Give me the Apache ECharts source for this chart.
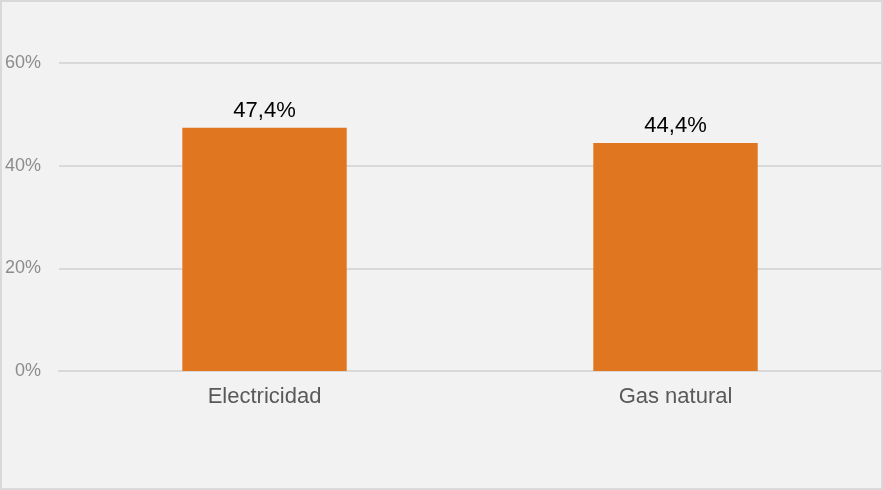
<!DOCTYPE html>
<html><head><meta charset="utf-8">
<script src="https://cdn.jsdelivr.net/npm/echarts@6/dist/echarts.min.js"></script>
<style>html,body{margin:0;padding:0;background:#f2f2f2}#c{width:883px;height:490px;box-sizing:border-box;border:2px solid #d9d9d9}</style>
</head><body><div id="c"></div>
<script>
const categories = ['Electricidad', 'Gas natural'];
const values = [47.4, 44.4];
const yTicks = [0, 20, 40, 60];
const chart = echarts.init(document.getElementById('c'));
chart.setOption({
  backgroundColor: '#f2f2f2',
  animation: false,
  grid: { left: 57, right: 0, top: 61, bottom: 117 },
  xAxis: {
    type: 'category', data: categories,
    axisLine: { lineStyle: { color: '#d9d9d9', width: 2 } },
    axisTick: { show: false },
    axisLabel: { color: '#595959', fontSize: 22, fontFamily: 'Liberation Sans', margin: 15 }
  },
  yAxis: {
    type: 'value', min: yTicks[0], max: yTicks[yTicks.length-1], interval: 20,
    axisLine: { show: false }, axisTick: { show: false },
    splitLine: { lineStyle: { color: '#d9d9d9', width: 2 } },
    axisLabel: { color: '#8c8c8c', fontSize: 18, fontFamily: 'Liberation Sans', margin: 18, formatter: v => v + '%' }
  },
  series: [{
    type: 'bar', data: values, barWidth: '40%',
    itemStyle: { color: '#e0761f' },
    label: { show: true, position: 'top', color: '#000', fontSize: 22, fontFamily: 'Liberation Sans', distance: 6,
      formatter: p => p.value.toFixed(1).replace('.', ',') + '%' }
  }]
});
</script></body></html>
